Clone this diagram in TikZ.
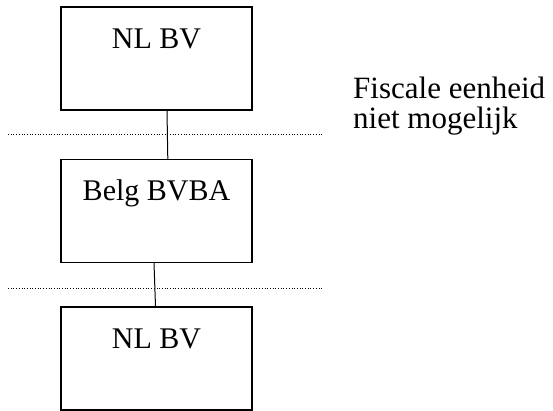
\documentclass[tikz,border=0pt]{standalone}
\usepackage{fontspec}
\setmainfont{Liberation Serif}
\begin{document}
\begin{tikzpicture}[x=1pt,y=-1pt,
  entity/.style={draw=black,line width=1.3pt,minimum width=191pt,minimum height=103pt,inner sep=0pt},
  label/.style={font=\fontsize{30}{30}\selectfont,anchor=base},
  side/.style={font=\fontsize{31}{31}\selectfont,anchor=base west,inner sep=0pt},
  link/.style={line width=1pt},
  border/.style={line width=1pt,dash pattern=on 1pt off 1.7pt}]
\useasboundingbox (0,0) rectangle (553,410);
% entities
\node[entity] (top) at (156.5,58.5) {};
\node[entity] (mid) at (156.5,211) {};
\node[entity] (bot) at (156.5,358.5) {};
\node[label] (toptxt) at (156.5,48) {NL BV};
\node[label] (midtxt) at (156.5,200) {Belg BVBA};
\node[label] (bottxt) at (156.5,348) {NL BV};
% ownership links
\draw[link] ([xshift=10.5pt]top.south) -- ([xshift=11.3pt]mid.north);
\draw[link] ([xshift=-2.5pt]mid.south) -- ([xshift=-1pt]bot.north);
% border lines
\coordinate (b1l) at (8,134.5);
\coordinate (b1r) at (322,134.5);
\coordinate (b2l) at (8,288);
\coordinate (b2r) at (322,288);
\draw[border] (b1l) -- (b1r);
\draw[border] (b2l) -- (b2r);
% remark
\node[side] (rem1) at (353,98) {Fiscale eenheid};
\node[side] (rem2) at (353,128) {niet mogelijk};
\end{tikzpicture}
\end{document}
